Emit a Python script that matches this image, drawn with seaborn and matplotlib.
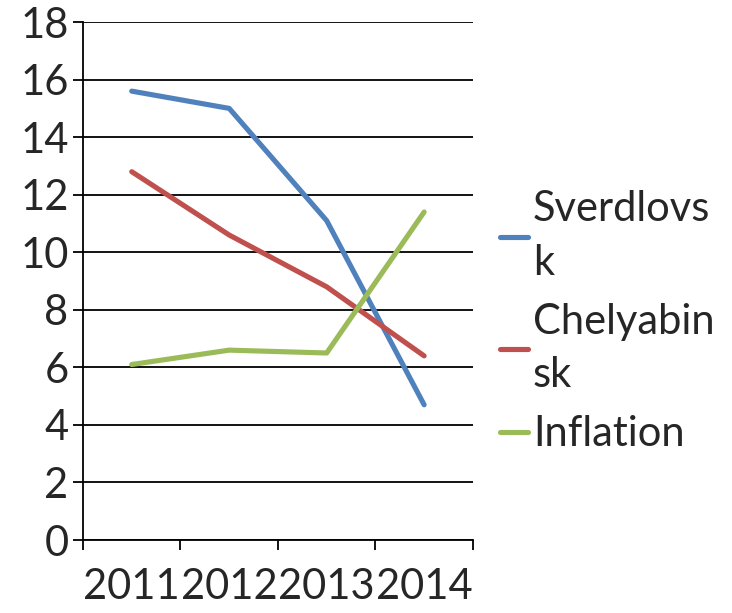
import numpy as np
import pandas as pd
import matplotlib
matplotlib.use("Agg")
import matplotlib.pyplot as plt
import seaborn as sns

# Annual values by region
years = [2011, 2012, 2013, 2014]
sverdlovsk = [15.6, 15.0, 11.1, 4.7]
chelyabinsk = [12.8, 10.6, 8.8, 6.4]
inflation = [6.1, 6.6, 6.5, 11.4]
series_names = ["Sverdlovsk", "Chelyabinsk", "Inflation"]
legend_labels = ["Sverdlovs\nk", "Chelyabin\nsk", "Inflation"]
y_ticks = [0, 2, 4, 6, 8, 10, 12, 14, 16, 18]
colors = ["#4F81BD", "#C0504D", "#9BBB59"]

df = pd.DataFrame({
    "year": years * 3,
    "value": sverdlovsk + chelyabinsk + inflation,
    "series": np.repeat(series_names, len(years)),
})

sns.set_theme(style="white")
plt.rcParams["font.family"] = ["Lato", "DejaVu Sans"]

fig = plt.figure(figsize=(7.32, 6.13), dpi=100)
ax = fig.add_axes([0.1134, 0.119, 0.5326, 0.845])

sns.lineplot(data=df, x="year", y="value", hue="series", hue_order=series_names,
             palette=colors, linewidth=3.7, ax=ax, legend=False)

ax.set_ylim(0, 18)
ax.set_xlim(years[0] - 0.5, years[-1] + 0.5)
ax.set_yticks(y_ticks)
ax.set_yticklabels([str(v) for v in y_ticks])
ax.set_xticks(years)
ax.set_xticklabels([str(y) for y in years])
ax.set_xticks([y - 0.5 for y in years] + [years[-1] + 0.5], minor=True)

ax.yaxis.grid(True, color="black", linewidth=1.3)
ax.set_axisbelow(True)
for side in ["top", "right"]:
    ax.spines[side].set_visible(False)
for side in ["left", "bottom"]:
    ax.spines[side].set_color("black")
    ax.spines[side].set_linewidth(1.3)

ax.tick_params(axis="y", which="major", length=7, width=1.3, color="black",
               labelsize=30, pad=3.5, left=True)
ax.tick_params(axis="x", which="major", length=0, labelsize=30, pad=20)
ax.tick_params(axis="x", which="minor", length=7, width=1.3, color="black", bottom=True)
ax.set_xlabel("")
ax.set_ylabel("")

handles = [plt.Line2D([], [], color=c, linewidth=3.7) for c in colors]
leg = fig.legend(handles, legend_labels, loc="center left",
                 bbox_to_anchor=(0.683, 0.475), frameon=False, fontsize=30,
                 handlelength=0.67, handletextpad=0.12, borderpad=0,
                 borderaxespad=0, labelspacing=0.5)
for t in leg.get_texts():
    t.set_linespacing(1.5)

fig.savefig("out.png", dpi=100)
